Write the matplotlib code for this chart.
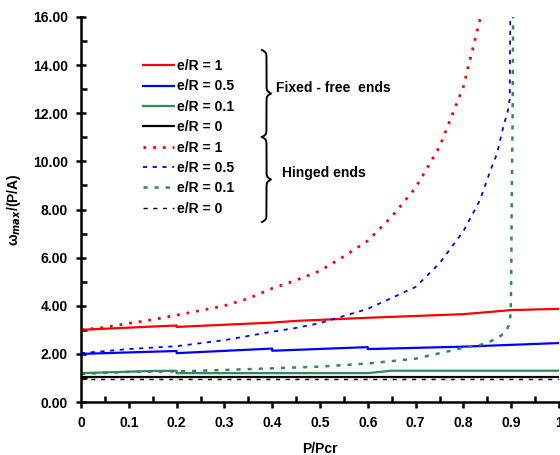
import numpy as np
import matplotlib
matplotlib.use('Agg')
import matplotlib.pyplot as plt
from matplotlib.lines import Line2D
from matplotlib.ticker import MultipleLocator, FormatStrFormatter

plt.rcParams['font.family'] = ['Liberation Sans', 'DejaVu Sans']
plt.rcParams['font.weight'] = 'bold'
plt.rcParams['mathtext.fontset'] = 'custom'
plt.rcParams['mathtext.rm'] = 'Liberation Sans:bold'
plt.rcParams['mathtext.bf'] = 'Liberation Sans:bold'
plt.rcParams['lines.scale_dashes'] = False

# fixed - free ends (solid)
x_ff1 = [0, 0.2, 0.2, 0.4, 0.45, 0.6, 0.8, 0.9, 1.0]
y_ff1 = [3.0, 3.18, 3.12, 3.3, 3.37, 3.5, 3.65, 3.82, 3.87]
x_ff05 = [0, 0.2, 0.2, 0.4, 0.4, 0.6, 0.6, 0.8, 1.0]
y_ff05 = [2.0, 2.12, 2.03, 2.22, 2.13, 2.28, 2.2, 2.3, 2.45]
x_ff01 = [0, 0.15, 0.2, 0.2, 0.6, 0.65, 1.0]
y_ff01 = [1.2, 1.29, 1.3, 1.2, 1.2, 1.3, 1.3]
x_ff0 = [0, 1.0]
y_ff0 = [1.03, 1.03]

# hinged ends (dotted)
x_h1 = [0, 0.05, 0.1, 0.15, 0.2, 0.25, 0.3, 0.35, 0.4, 0.45, 0.5, 0.55, 0.6, 0.65, 0.7, 0.75, 0.8, 0.836]
y_h1 = [3.0, 3.1, 3.27, 3.42, 3.61, 3.8, 4.0, 4.3, 4.72, 5.06, 5.45, 6.05, 6.7, 7.7, 8.9, 10.6, 13.1, 16.0]
x_h05 = [0, 0.1, 0.2, 0.3, 0.4, 0.45, 0.5, 0.6, 0.7, 0.75, 0.8, 0.835, 0.856, 0.87, 0.883, 0.893, 0.897, 0.898]
y_h05 = [2.03, 2.2, 2.32, 2.57, 2.92, 3.08, 3.28, 3.87, 4.78, 5.76, 7.1, 8.4, 9.6, 10.3, 11.4, 12.1, 12.6, 16.0]
x_h01 = [0, 0.1, 0.2, 0.3, 0.4, 0.5, 0.6, 0.7, 0.8, 0.835, 0.86, 0.875, 0.89, 0.897, 0.899, 0.9, 0.901, 0.903, 0.904]
y_h01 = [1.17, 1.25, 1.27, 1.33, 1.4, 1.47, 1.6, 1.8, 2.25, 2.37, 2.55, 2.7, 2.95, 3.3, 3.8, 5.0, 8.0, 12.0, 16.0]
x_h0 = [0, 1.0]
y_h0 = [0.97, 0.97]

labels = ['e/R = 1', 'e/R = 0.5', 'e/R = 0.1', 'e/R = 0']
green = '#2e8b57'
fs = 10

fig = plt.figure(figsize=(5.6, 4.55), dpi=100)
ax = fig.add_axes([81/560, 1-402/455, 478/560, 385/455])

ax.plot(x_ff1, y_ff1, color='red', lw=1.6, label=labels[0])
ax.plot(x_ff05, y_ff05, color='blue', lw=1.6, label=labels[1])
ax.plot(x_ff01, y_ff01, color=green, lw=1.6, label=labels[2])
ax.plot(x_ff0, y_ff0, color='black', lw=1.6, label=labels[3])
ax.plot(x_h1, y_h1, color='red', lw=2, dashes=(2, 5), label=labels[0])
ax.plot(x_h05, y_h05, color='blue', lw=1.3, dashes=(3, 4), label=labels[1])
ax.plot(x_h01, y_h01, color=green, lw=1.8, dashes=(3, 5), label=labels[2])
ax.plot(x_h0, y_h0, color='black', lw=1, dashes=(3, 4), label=labels[3])

ax.set_xlim(0, 1)
ax.set_ylim(0, 16)
for s in ['top', 'right']:
    ax.spines[s].set_visible(False)
for s in ['left', 'bottom']:
    ax.spines[s].set_linewidth(1.8)

ax.xaxis.set_minor_locator(MultipleLocator(0.05))
ax.yaxis.set_major_locator(MultipleLocator(2))
ax.yaxis.set_minor_locator(MultipleLocator(1))
ax.yaxis.set_major_formatter(FormatStrFormatter('%.2f'))
ax.set_xticks(np.arange(0, 1.01, 0.1))
ax.set_xticklabels(['0', '0.1', '0.2', '0.3', '0.4', '0.5', '0.6', '0.7', '0.8', '0.9', '1'])
ax.tick_params(axis='x', which='major', direction='out', length=4, width=1.8, pad=6, labelsize=fs)
ax.tick_params(axis='x', which='minor', direction='in', length=4, width=1.8)
ax.tick_params(axis='y', which='major', direction='inout', length=7, width=1.8, pad=6, labelsize=fs)
ax.tick_params(axis='y', which='minor', direction='in', length=4, width=1.8)

ax.set_xlabel('P/Pcr', fontsize=fs, fontweight='bold', labelpad=9)
ax.set_ylabel('ω$_{max}$/(P/A)', fontsize=fs, fontweight='bold', labelpad=7)

ax.legend(loc='upper left', bbox_to_anchor=(143/560, 1-59/455), bbox_transform=fig.transFigure,
          frameon=False, fontsize=fs, handlelength=2.2, handletextpad=0.25,
          labelspacing=0.46, borderpad=0, borderaxespad=0)


def brace(xl, top, bot, w, b=0.8):
    h = (bot - top) / 2.0
    s = np.linspace(0, h, 150)
    g = 1/(1+np.exp(-b*s)) + 1/(1+np.exp(-b*(s-h)))
    xs = np.concatenate([xl + w*(g-0.5), (xl + w*(g-0.5))[::-1]])
    ys = np.concatenate([top + s, bot - s[::-1]])
    fig.add_artist(Line2D(xs/560, 1-ys/455, transform=fig.transFigure, color='black', lw=1.4))


brace(262, 50, 137, 9)
brace(262, 137, 222, 9)
fig.text(276/560, 1-88/455, 'Fixed - free  ends', fontsize=fs, fontweight='bold', va='center')
fig.text(282/560, 1-173/455, 'Hinged ends', fontsize=fs, fontweight='bold', va='center')

fig.savefig('out.png', dpi=100)
